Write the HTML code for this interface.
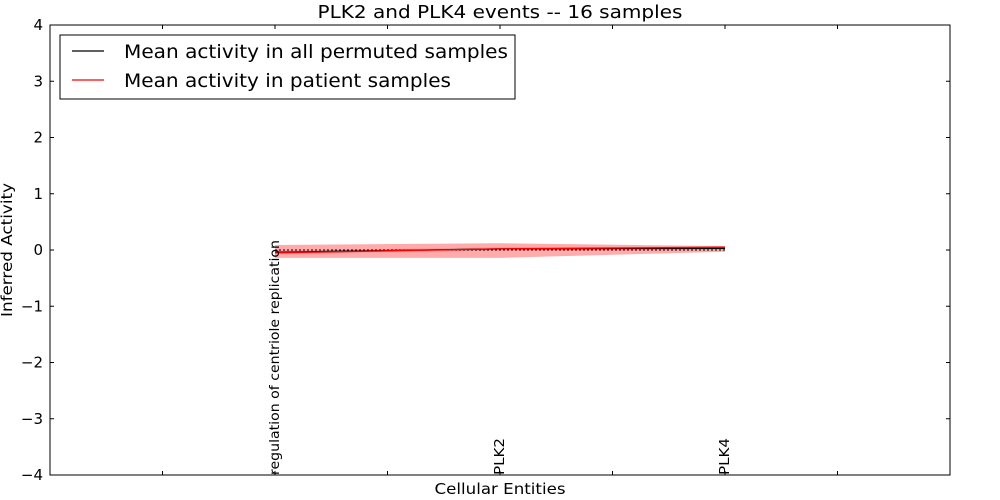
<!DOCTYPE html>
<html><head><meta charset="utf-8"><style>body{margin:0;background:#fff}svg{display:block;font-family:"DejaVu Sans","Liberation Sans",sans-serif}</style></head>
<body>
<svg id="c" width="1000" height="500"></svg>
<script>
const categories=["regulation of centriole replication","PLK2","PLK4"];
const patientMean=[-0.05,0.02,0.05];
const patientUpper=[0.09,0.12,0.07];
const patientLower=[-0.14,-0.14,-0.03];
const permMean=[-0.04,0.02,0.03];
const permUpper=[-0.01,0.05,0.06];
const permLower=[-0.07,-0.01,0.0];
const yTicks=[-4,-3,-2,-1,0,1,2,3,4];
const xTicks=[-1,-0.5,0,0.5,1,1.5,2,2.5,3];
const L=50,R=950,T=25,B=475;
const xs=v=>L+(v+1)/4*(R-L);
const ys=v=>T+(4-v)/8*(B-T);
const svg=document.getElementById('c');
const NS='http://www.w3.org/2000/svg';
function mk(tag,attrs,name,parent){const e=document.createElementNS(NS,tag);for(const k in attrs)e.setAttribute(k,attrs[k]);


(parent||svg).appendChild(e);return e;}
function band(up,lo,fill,op,name){let p=up.map((v,i)=>xs(i)+','+ys(v));for(let i=lo.length-1;i>=0;i--)p.push(xs(i)+','+ys(lo[i]));
mk('polygon',{points:p.join(' '),fill:fill,'fill-opacity':op},name);}
function line(vals,col,name){mk('polyline',{points:vals.map((v,i)=>xs(i)+','+ys(v)).join(' '),fill:'none',stroke:col,'stroke-width':1.3},name);}
band(permUpper,permLower,'#999',0.3,'permuted-band');
band(patientUpper,patientLower,'#f44',0.45,'patient-band');
mk('line',{x1:xs(0),x2:xs(2),y1:ys(0),y2:ys(0),stroke:'#000','stroke-dasharray':'2,2','stroke-width':1},'zero-line');
line(permMean,'#000','permuted-mean-line');
line(patientMean,'#f00','patient-mean-line');
mk('rect',{x:L,y:T,width:R-L,height:B-T,fill:'none',stroke:'#000','stroke-width':1},'plot-frame');
yTicks.forEach(v=>{const y=ys(v);
mk('line',{x1:L,x2:L+4,y1:y,y2:y,stroke:'#000'},'y-tick');
mk('line',{x1:R-4,x2:R,y1:y,y2:y,stroke:'#000'},'y-tick-right');
const t=mk('text',{x:L-7,y:y+5,'text-anchor':'end','font-size':15},'y-tick-label');t.textContent=(v<0?'\u2212'+(-v):v);});
xTicks.forEach(v=>{const x=xs(v);
mk('line',{x1:x,x2:x,y1:B,y2:B-4,stroke:'#000'},'x-tick');
mk('line',{x1:x,x2:x,y1:T,y2:T+4,stroke:'#000'},'x-tick-top');});
const catLens=[235,37,37];
categories.forEach((c,i)=>{const x=xs(i)+4;const t=mk('text',{x:x,y:B,'font-size':13,textLength:catLens[i],lengthAdjust:'spacingAndGlyphs',transform:`rotate(-90 ${x} ${B})`},'x-category-label');t.textContent=c;});
function txt(a,name,s,len){const t=mk('text',Object.assign({textLength:len,lengthAdjust:'spacingAndGlyphs'},a),name);t.textContent=s;return t;}
txt({x:500,y:18,'text-anchor':'middle','font-size':18},'chart-title','PLK2 and PLK4 events -- 16 samples',365);
txt({x:500,y:494,'text-anchor':'middle','font-size':15},'x-axis-title','Cellular Entities',131);
txt({x:12,y:250,'text-anchor':'middle','font-size':15,transform:'rotate(-90 12 250)'},'y-axis-title','Inferred Activity',134);
const lg=mk('g',{},'legend');
mk('rect',{x:60,y:35,width:455,height:64,fill:'#fff',stroke:'#000'},'legend-box',lg);
mk('line',{x1:72,x2:104,y1:51,y2:51,stroke:'#000','stroke-width':1.3},'legend-swatch-permuted',lg);
let t=mk('text',{x:124,y:58,'font-size':19,textLength:384,lengthAdjust:'spacingAndGlyphs'},'legend-label-permuted',lg);t.textContent='Mean activity in all permuted samples';
mk('line',{x1:72,x2:104,y1:80,y2:80,stroke:'#f00','stroke-width':1.3},'legend-swatch-patient',lg);
t=mk('text',{x:124,y:87,'font-size':19,textLength:327,lengthAdjust:'spacingAndGlyphs'},'legend-label-patient',lg);t.textContent='Mean activity in patient samples';
</script>
</body></html>
